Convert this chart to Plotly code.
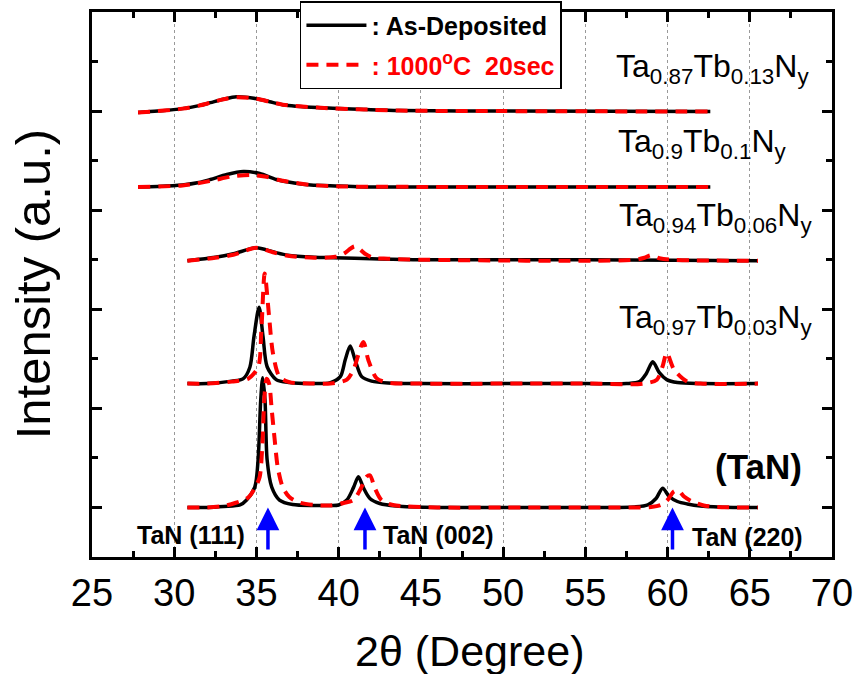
import plotly.graph_objects as go

# ---------------- data ----------------
# TaN
tan_dep_x = [30.8, 32.0, 33.0, 34.0, 34.4, 34.9, 35.1, 35.26, 35.38, 35.52, 35.65, 35.93, 36.4, 37.2, 38.5,
             39.5, 40.0, 40.5, 40.9, 41.2, 41.5, 41.9, 42.5, 43.5, 46.0, 50.0, 55.0, 58.0, 58.8, 59.3, 59.7,
             60.1, 60.6, 61.2, 62.0, 64.0, 65.5]
tan_dep_y = [1.0, 1.0, 1.02, 1.05, 1.15, 1.41, 1.96, 3.17, 3.62, 3.17, 1.96, 1.41, 1.15, 1.06, 1.04,
             1.04, 1.05, 1.15, 1.4, 1.62, 1.4, 1.18, 1.08, 1.03, 1.0, 1.0, 1.0, 1.01, 1.05, 1.18, 1.39,
             1.22, 1.12, 1.07, 1.03, 1.0, 1.0]
tan_ann_x = [30.8, 32.0, 33.0, 33.7, 34.5, 35.0, 35.2, 35.35, 35.5, 35.62, 35.77, 35.93, 36.1, 36.3, 36.6,
             37.0, 37.6, 38.5, 39.5, 40.3, 40.9, 41.3, 41.7, 41.9, 42.2, 42.6, 43.3, 46.0, 50.0, 55.0,
             59.0, 59.6, 60.0, 60.4, 60.7, 61.0, 61.5, 62.2, 63.0, 65.5]
tan_ann_y = [1.0, 1.0, 1.03, 1.09, 1.2, 1.45, 1.62, 2.2, 3.3, 3.6, 3.5, 2.97, 2.4, 1.8, 1.41,
             1.21, 1.1, 1.05, 1.04, 1.09, 1.15, 1.35, 1.62, 1.65, 1.39, 1.15, 1.05, 1.0, 1.0, 1.0,
             1.01, 1.05, 1.15, 1.33, 1.33, 1.22, 1.12, 1.04, 1.01, 1.0]

# Ta0.97Tb0.03Ny
t97_dep_x = [30.8, 32.0, 33.5, 34.2, 34.6, 34.85, 35.16, 35.4, 35.65, 36.2, 37.0, 38.5, 39.5, 40.1, 40.4,
             40.7, 41.0, 41.4, 42.0, 43.0, 45.0, 50.0, 55.0, 57.5, 58.3, 58.7, 59.1, 59.5, 59.95, 60.6,
             62.0, 65.5]
t97_dep_y = [3.5, 3.5, 3.55, 3.6, 3.83, 4.45, 5.04, 4.45, 3.84, 3.58, 3.52, 3.5, 3.52, 3.64, 3.98,
             4.26, 3.98, 3.64, 3.55, 3.51, 3.5, 3.5, 3.5, 3.5, 3.54, 3.7, 3.94, 3.72, 3.58, 3.52,
             3.5, 3.5]
t97_ann_x = [30.8, 32.0, 33.5, 34.5, 35.1, 35.3, 35.5, 35.77, 36.0, 36.4, 37.0, 38.5, 39.5, 40.5, 40.9,
             41.5, 41.8, 42.3, 43.0, 45.0, 50.0, 55.0, 58.5, 59.35, 59.7, 59.95, 60.4, 61.2, 62.0, 65.5]
t97_ann_y = [3.5, 3.5, 3.54, 3.6, 3.83, 4.59, 5.72, 4.85, 4.12, 3.64, 3.53, 3.5, 3.5, 3.58, 3.78,
             4.34, 3.98, 3.61, 3.52, 3.5, 3.5, 3.5, 3.5, 3.58, 3.85, 4.12, 3.78, 3.54, 3.5, 3.5]

# Ta0.94Tb0.06Ny
t94_dep_x = [30.8, 32.5, 33.6, 35.0, 36.0, 36.9, 38.5, 39.7, 42.0, 45.0, 55.0, 65.5]
t94_dep_y = [5.98, 6.05, 6.12, 6.24, 6.16, 6.09, 6.05, 6.04, 6.02, 6.0, 6.0, 5.98]
t94_ann_x = [30.8, 32.5, 33.6, 35.0, 36.0, 36.9, 38.5, 39.8, 40.3, 41.0, 41.6, 42.1, 43.0, 45.0, 58.0,
             58.6, 59.0, 59.5, 60.2, 65.5]
t94_ann_y = [5.98, 6.04, 6.1, 6.24, 6.15, 6.08, 6.04, 6.06, 6.12, 6.27, 6.12, 6.04, 6.02, 6.0, 6.0,
             6.04, 6.09, 6.03, 6.0, 5.98]

# Ta0.9Tb0.1Ny
t90_dep_x = [27.8, 29.0, 30.5, 31.5, 32.2, 33.2, 34.2, 35.2, 36.2, 37.3, 38.3, 40.0, 41.7, 45.0, 62.6]
t90_dep_y = [7.47, 7.48, 7.51, 7.56, 7.62, 7.72, 7.78, 7.74, 7.62, 7.55, 7.51, 7.49, 7.47, 7.47, 7.47]
t90_ann_x = [27.8, 30.5, 32.2, 33.5, 34.6, 35.5, 36.5, 38.3, 40.0, 45.0, 62.6]
t90_ann_y = [7.47, 7.5, 7.59, 7.68, 7.71, 7.68, 7.6, 7.51, 7.48, 7.47, 7.47]

# Ta0.87Tb0.13Ny
t87_dep_x = [27.8, 29.0, 30.5, 31.5, 32.2, 33.0, 33.8, 35.0, 35.8, 36.6, 38.7, 41.7, 43.7, 50.0, 62.6]
t87_dep_y = [8.97, 9.0, 9.05, 9.11, 9.17, 9.24, 9.29, 9.25, 9.19, 9.13, 9.07, 9.03, 9.01, 9.0, 8.99]
t87_ann_x = t87_dep_x
t87_ann_y = [8.97, 9.0, 9.05, 9.11, 9.17, 9.24, 9.28, 9.25, 9.19, 9.13, 9.07, 9.03, 9.01, 9.0, 8.99]

sample_labels = ["Ta<sub>0.87</sub>Tb<sub>0.13</sub>N<sub>y</sub>",
                 "Ta<sub>0.9</sub>Tb<sub>0.1</sub>N<sub>y</sub>",
                 "Ta<sub>0.94</sub>Tb<sub>0.06</sub>N<sub>y</sub>",
                 "Ta<sub>0.97</sub>Tb<sub>0.03</sub>N<sub>y</sub>"]
sample_label_x = [56.75, 56.85, 56.95, 56.9]
sample_label_y = [9.86, 8.34, 6.85, 4.79]

peak_labels = ["TaN (111)", "TaN (002)", "TaN (220)"]
peak_label_x = [27.6, 42.6, 61.35]
peak_label_y = [0.44, 0.44, 0.41]
arrow_x = [35.7, 41.6, 60.3]
arrow_head_y = 1.0
arrow_tail_y = 0.12

x_ticks = [25, 30, 35, 40, 45, 50, 55, 60, 65, 70]

series_names = ["<b>: As-Deposited</b>",
                "<b><span style='color:red'>: 1000<sup>o</sup>C\u00a0 20sec</span></b>"]

curves = [
    (tan_dep_x, tan_dep_y, tan_ann_x, tan_ann_y),
    (t97_dep_x, t97_dep_y, t97_ann_x, t97_ann_y),
    (t94_dep_x, t94_dep_y, t94_ann_x, t94_ann_y),
    (t90_dep_x, t90_dep_y, t90_ann_x, t90_ann_y),
    (t87_dep_x, t87_dep_y, t87_ann_x, t87_ann_y),
]

FONT = "Arial, 'Liberation Sans', Helvetica, sans-serif"

fig = go.Figure()
for i, (dx, dy, ax_, ay_) in enumerate(curves):
    fig.add_trace(go.Scatter(x=dx, y=dy, mode="lines", name=series_names[0],
                             showlegend=(i == 0), legendgroup="dep",
                             line=dict(color="black", width=3.5, shape="spline", smoothing=0.8)))
for i, (dx, dy, ax_, ay_) in enumerate(curves):
    fig.add_trace(go.Scatter(x=ax_, y=ay_, mode="lines", name=series_names[1],
                             showlegend=(i == 0), legendgroup="ann",
                             line=dict(color="red", width=4, dash="12px,8px", shape="spline", smoothing=0.8)))

annotations = []
for t, x, y in zip(sample_labels, sample_label_x, sample_label_y):
    annotations.append(dict(x=x, y=y, xref="x", yref="y", text=t, showarrow=False,
                            xanchor="left", yanchor="middle",
                            font=dict(family=FONT, size=32, color="black")))
annotations.append(dict(x=65.55, y=1.83, xref="x", yref="y", text="<b>(TaN)</b>", showarrow=False,
                        xanchor="center", yanchor="middle",
                        font=dict(family=FONT, size=35, color="black")))
for t, x, y in zip(peak_labels, peak_label_x, peak_label_y):
    annotations.append(dict(x=x, y=y, xref="x", yref="y", text="<b>" + t + "</b>", showarrow=False,
                            xanchor="left", yanchor="middle",
                            font=dict(family=FONT, size=25, color="black")))
for x in arrow_x:
    annotations.append(dict(x=x, y=arrow_head_y, xref="x", yref="y", ax=x, ay=arrow_tail_y,
                            axref="x", ayref="y", text="", showarrow=True,
                            arrowhead=2, arrowsize=1.3, arrowwidth=3.5, arrowcolor="blue"))
# axis titles
annotations.append(dict(x=0.51, y=-0.172, xref="paper", yref="paper", text="2\u03b8 (Degree)",
                        showarrow=False, xanchor="center", yanchor="middle",
                        font=dict(family=FONT, size=43, color="black")))
annotations.append(dict(x=-0.08, y=0.5, xref="paper", yref="paper", text="Intensity (a.u.)",
                        showarrow=False, xanchor="center", yanchor="middle", textangle=-90,
                        font=dict(family=FONT, size=49, color="black")))

fig.update_layout(
    width=856, height=674,
    margin=dict(l=92, r=24, t=12, b=117, autoexpand=False),
    paper_bgcolor="white", plot_bgcolor="white",
    font=dict(family=FONT, color="black"),
    annotations=annotations,
    legend=dict(x=0.281, y=1.02, xanchor="left", yanchor="top",
                bgcolor="white", bordercolor="black", borderwidth=1.5,
                font=dict(family=FONT, size=25, color="black"),
                itemwidth=60, tracegroupgap=4),
    xaxis=dict(range=[25, 70], tickvals=x_ticks, ticktext=[str(v) for v in x_ticks],
               ticks="inside", ticklen=10, tickwidth=3, tickcolor="black",
               minor=dict(dtick=2.5, tick0=25, ticks="inside", ticklen=6, tickwidth=3, tickcolor="black",
                          showgrid=False),
               showline=True, linewidth=3, linecolor="black", mirror="ticks",
               showgrid=True, gridcolor="#999999", gridwidth=1, griddash="dot",
               tickfont=dict(family=FONT, size=38, color="black"), zeroline=False),
    yaxis=dict(range=[0, 11], tick0=1, dtick=2, ticks="inside", ticklen=10, tickwidth=3,
               tickcolor="black", showticklabels=False,
               minor=dict(dtick=1, tick0=0, ticks="inside", ticklen=6, tickwidth=3, tickcolor="black",
                          showgrid=False),
               showline=True, linewidth=3, linecolor="black", mirror="ticks",
               showgrid=False, zeroline=False),
)

fig.write_html("out.html")
